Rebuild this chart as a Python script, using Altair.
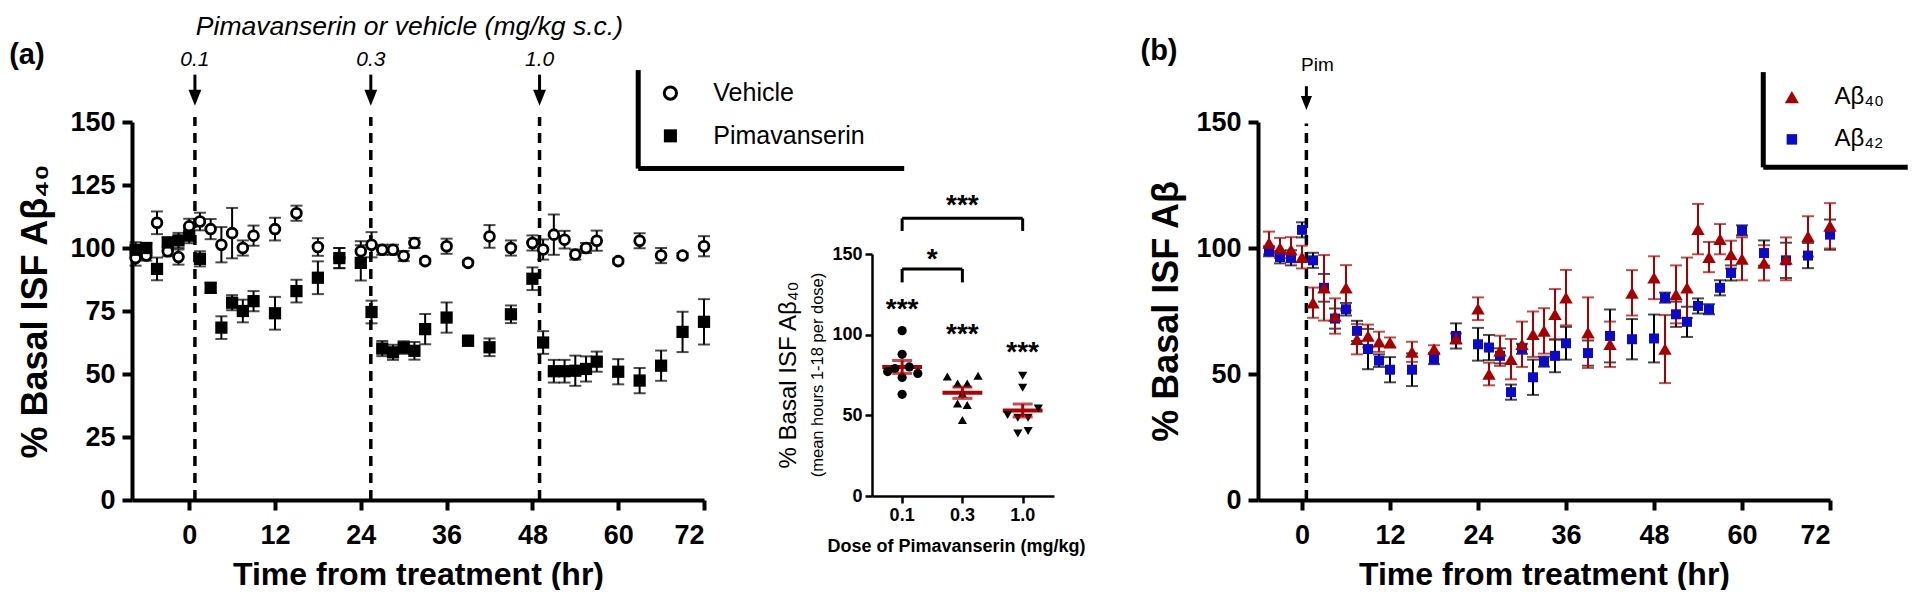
import altair as alt
import pandas as pd

FONT = "Liberation Sans"
RED = "#A80000"
MEANRED = "#B40000"
BLUE = "#0A0ACD"

# ---------------- panel (a): time course ----------------
time_a = [-7.5, -6, -4.5, -3, -1.5, 0, 1.5, 3, 4.5, 6, 7.5, 9, 12, 15, 18, 21, 24,
          25.5, 27, 28.5, 30, 31.5, 33, 36, 39, 42, 45, 48,
          49.5, 51, 52.5, 54, 55.5, 57, 60, 63, 66, 69, 72]
vehicle = [96, 97, 110, 98.7, 96.4, 108.6, 110.5, 107.5, 101.3, 105.9, 100, 104.9, 107.5,
           113.8, 100.4, 96, 98.7, 101.3, 99.3, 99.3, 96.8, 102, 94.8, 100.7, 94.1, 104.6,
           100, 102, 99.4, 105.3, 103.3, 97.4, 100, 102.9, 94.8, 102.9, 97, 97, 100.7]
vehicle_sem = [3, 2, 4.5, 2, 3, 3, 3.5, 4, 7, 10, 3, 4, 4.5, 3, 3.5, 4, 4, 5, 2, 2, 2, 2, 1,
               3, 1, 4.5, 3, 3, 4, 8, 3.5, 2, 2, 4, 1, 3, 3, 1, 4]
pimavanserin = [99.3, 100, 91.7, 102.2, 103, 104.9, 95.7, 84.2, 68.4, 78.3, 75, 78.9, 74.1,
                82.9, 88.2, 96, 94.1, 74.6, 60.1, 58.6, 60.5, 59.2, 67.8, 72.4, 63.2, 60.6,
                73.7, 87.8, 62.5, 51.1, 51.1, 51.3, 52, 54.9, 50.9, 47.4, 53.3, 66.7, 70.7]
pimavanserin_sem = [3, 2, 4.5, 2, 3, 3, 3, 2, 4.5, 3, 4.5, 4, 6.5, 4.5, 6.5, 4, 7, 4.5, 3, 3,
                    2.5, 3.5, 6, 6, 2, 3.5, 3.5, 4.5, 4.5, 4.5, 4.5, 6, 5, 4, 5, 5, 6, 8, 9]
dose_times = [0.8, 25.4, 49.0]
dose_labels = ["0.1", "0.3", "1.0"]

# ---------------- panel (b): Abeta40 / Abeta42 ----------------
time_b = [-4.5, -3, -1.5, 0, 1.5, 3, 4.5, 6, 7.5, 9, 10.5, 12, 15, 18, 21, 24,
          25.5, 27, 28.5, 30, 31.5, 33, 34.5, 36, 39, 42, 45, 48,
          49.5, 51, 52.5, 54, 55.5, 57, 58.5, 60, 63, 66, 69, 72]
ab40 = [102, 100, 99.3, 96.4, 78.3, 84.2, 73, 84.2, 63.8, 65.1, 62.8, 62.5,
        58.8, 59.9, 64.1, 75.9, 50, 59.2, 55.9, 61.8, 65.8, 67.1, 73.7, 80.3,
        66.4, 61.8, 82.2, 88.2, 59.9, 81.6, 84.2, 107.5, 96.4, 103.5, 97.4, 95.7,
        94.1, 95.7, 104.6, 108.8]
ab40_sem = [4.5, 4, 5, 4.5, 6, 13, 7, 9, 6, 4.5, 4, 2, 4, 1.5, 2, 4.5,
            4.5, 6, 8, 9, 9, 9, 10, 11, 14, 9, 9, 8.5, 13.5, 11.5, 12, 10, 6, 6, 5.5, 8.5,
            7, 8.5, 8, 9]
ab42 = [98.7, 96.4, 96.1, 107.2, 95.1, 84.2, 72, 75.7, 67.1, 59.9, 55.3, 51.7,
        51.7, 55.9, 65.1, 61.8, 60.5, 57.2, 42.8, 60, 48.7, 54.9, 57.2, 62.2,
        58.3, 65.1, 63.8, 64.1, 80.3, 73.7, 70.7, 77, 75.7, 84.2, 90.1, 107,
        98, 95.1, 97, 105.3]
ab42_sem = [2, 2.5, 3, 3, 3, 5.5, 4, 2.5, 4, 8, 2.5, 5, 6.5, 2, 5, 6.5,
            5, 3, 3, 2, 7, 2, 6.5, 6.5, 5, 10.5, 8, 9.5, 2, 5, 6, 3, 2, 3, 3, 2,
            5, 7, 5, 6]

# ---------------- inset: mean hours 1-18 per dose ----------------
inset_doses = ["0.1", "0.3", "1.0"]
inset_01 = [102.5, 87.8, 80, 79, 77.1, 76, 73.5, 63]
inset_03 = [74, 74.6, 69.8, 69.8, 63.6, 57.4, 56.4, 47.1]
inset_10 = [74.6, 67.1, 54.3, 50.2, 48.5, 48.5, 40.3, 38.8]
jitter_01 = [0, 0, 0.12, -0.12, -0.24, 0.26, 0, 0]
jitter_03 = [-0.25, 0.26, -0.08, 0.08, 0, -0.08, 0.08, 0]
jitter_10 = [0, 0, 0.26, -0.25, -0.08, 0.09, 0.09, -0.08]
inset_mean = [80, 64, 53]
inset_sem = [4, 3.5, 4]

# ---------------- tables ----------------
df_a = pd.DataFrame({"t": time_a, "veh": vehicle, "veh_e": vehicle_sem,
                     "pim": pimavanserin, "pim_e": pimavanserin_sem})
df_a["veh_lo"] = df_a.veh - df_a.veh_e
df_a["veh_hi"] = df_a.veh + df_a.veh_e
df_a["pim_lo"] = df_a.pim - df_a.pim_e
df_a["pim_hi"] = df_a.pim + df_a.pim_e
df_dose = pd.DataFrame({"t": dose_times, "lab": dose_labels})
df_one = pd.DataFrame({"k": [0]})

df_b = pd.DataFrame({"t": time_b, "a40": ab40, "a40_e": ab40_sem, "a42": ab42, "a42_e": ab42_sem})
df_b["a40_lo"] = df_b.a40 - df_b.a40_e
df_b["a40_hi"] = df_b.a40 + df_b.a40_e
df_b["a42_lo"] = df_b.a42 - df_b.a42_e
df_b["a42_hi"] = df_b.a42 + df_b.a42_e

rows = []
for i, (vals, jit, shp) in enumerate([(inset_01, jitter_01, "circle"),
                                      (inset_03, jitter_03, "triangle-up"),
                                      (inset_10, jitter_10, "triangle-down")]):
    for v, j in zip(vals, jit):
        rows.append({"x": i + j, "v": v, "shape": shp})
df_pts = pd.DataFrame(rows)
df_mean = pd.DataFrame({"i": [0, 1, 2], "m": inset_mean, "s": inset_sem,
                        "lab": inset_doses})
df_mean["l"] = df_mean.i - 0.33
df_mean["r"] = df_mean.i + 0.33
df_mean["lo"] = df_mean.m - df_mean.s
df_mean["hi"] = df_mean.m + df_mean.s

# ---------------- scales ----------------
xa = alt.Scale(domain=[-8, 72], nice=False, zero=False)
ya = alt.Scale(domain=[0, 150], nice=False, zero=False)
xb = alt.Scale(domain=[-6, 72], nice=False, zero=False)
yb = alt.Scale(domain=[0, 150], nice=False, zero=False)
xi = alt.Scale(domain=[-0.5, 2.52], range=[0, 182], nice=False, zero=False)
yi = alt.Scale(domain=[0, 150], range=[374, 132], nice=False, zero=False)

ARROW = "M-0.8,-1L0.8,-1L0,1Z"


def errbars(df, xf, lo, hi, xs, ys, color, cap=12, w=2):
    bar = alt.Chart(df).mark_rule(color=color, strokeWidth=w).encode(
        x=alt.X(f"{xf}:Q", scale=xs), y=alt.Y(f"{lo}:Q", scale=ys), y2=f"{hi}:Q")
    top = alt.Chart(df).mark_tick(color=color, thickness=w, size=cap, orient="horizontal").encode(
        x=alt.X(f"{xf}:Q", scale=xs), y=alt.Y(f"{hi}:Q", scale=ys))
    bot = alt.Chart(df).mark_tick(color=color, thickness=w, size=cap, orient="horizontal").encode(
        x=alt.X(f"{xf}:Q", scale=xs), y=alt.Y(f"{lo}:Q", scale=ys))
    return [bar, top, bot]


def dtext(text, x, y, xs, ys, **kw):
    return alt.Chart(df_one).mark_text(text=text, **kw).encode(
        x=alt.X(datum=x, scale=xs), y=alt.Y(datum=y, scale=ys))


def drule(x, y, x2=None, y2=None, xs=None, ys=None, **kw):
    enc = dict(x=alt.X(datum=x, scale=xs), y=alt.Y(datum=y, scale=ys))
    if x2 is not None:
        enc["x2"] = alt.X2(datum=x2)
    if y2 is not None:
        enc["y2"] = alt.Y2(datum=y2)
    return alt.Chart(df_one).mark_rule(**kw).encode(**enc)


def dpoint(x, y, xs, ys, **kw):
    return alt.Chart(df_one).mark_point(**kw).encode(
        x=alt.X(datum=x, scale=xs), y=alt.Y(datum=y, scale=ys))


# ---------------- panel (a) ----------------
axis_xa = alt.Axis(values=list(range(0, 73, 12)), title="Time from treatment (hr)",
                   titlePadding=11, labelPadding=12)
axis_ya = alt.Axis(values=[0, 25, 50, 75, 100, 125, 150], title="% Basal ISF Aβ₄₀",
                   titlePadding=15, labelPadding=7, titleFontSize=36)

dash_a = alt.Chart(df_dose).mark_rule(strokeDash=[10, 7], strokeWidth=3.5, color="black").encode(
    x=alt.X("t:Q", scale=xa, axis=axis_xa),
    y=alt.Y(datum=0, scale=ya, axis=axis_ya), y2=alt.Y2(datum=152))
shaft_a = alt.Chart(df_dose).mark_rule(strokeWidth=3, color="black").encode(
    x=alt.X("t:Q", scale=xa), y=alt.Y(datum=160.5, scale=ya), y2=alt.Y2(datum=168.8))
head_a = alt.Chart(df_dose).mark_point(shape=ARROW, filled=True, color="black", opacity=1,
                                       size=256).encode(
    x=alt.X("t:Q", scale=xa), y=alt.Y(datum=159.6, scale=ya))
doselab_a = alt.Chart(df_dose).mark_text(fontStyle="italic", fontSize=21, baseline="middle").encode(
    x=alt.X("t:Q", scale=xa), y=alt.Y(datum=174.6, scale=ya), text="lab:N")
title_a = dtext("Pimavanserin or vehicle (mg/kg s.c.)", 30.8, 187.6, xa, ya,
                fontStyle="italic", fontSize=26.5, baseline="middle")
lab_a = dtext("(a)", -22.7, 176.4, xa, ya, fontWeight="bold", fontSize=29, baseline="middle")

veh_pts = alt.Chart(df_a).mark_point(shape="circle", filled=True, fill="white", stroke="black",
                                     strokeWidth=2.8, size=95, opacity=1).encode(
    x=alt.X("t:Q", scale=xa), y=alt.Y("veh:Q", scale=ya))
pim_pts = alt.Chart(df_a).mark_point(shape="square", filled=True, color="black", size=150,
                                     opacity=1).encode(
    x=alt.X("t:Q", scale=xa), y=alt.Y("pim:Q", scale=ya))

leg_a = [
    drule(62.8, 131.5, y2=170.6, xs=xa, ys=ya, strokeWidth=5, color="black"),
    drule(62.8, 131.5, x2=100, xs=xa, ys=ya, strokeWidth=5, color="black"),
    dpoint(67.3, 161.5, xa, ya, shape="circle", filled=True, fill="white", stroke="black",
           strokeWidth=3, size=150, opacity=1),
    dpoint(67.3, 144.5, xa, ya, shape="square", filled=True, color="black", size=170, opacity=1),
    dtext("Vehicle", 73.3, 161.5, xa, ya, fontSize=25, align="left", baseline="middle"),
    dtext("Pimavanserin", 73.3, 144.5, xa, ya, fontSize=25, align="left", baseline="middle"),
]

panel_a = alt.layer(
    dash_a, shaft_a, head_a, doselab_a, title_a, lab_a,
    *errbars(df_a, "t", "veh_lo", "veh_hi", xa, ya, "black"),
    *errbars(df_a, "t", "pim_lo", "pim_hi", xa, ya, "black"),
    veh_pts, pim_pts, *leg_a
).properties(width=572, height=378)

# ---------------- inset ----------------
axis_xi = alt.Axis(values=[0, 1, 2], labels=False,
                   title="Dose of Pimavanserin (mg/kg)", titleFontSize=18, titlePadding=33,
                   domainWidth=2.5, tickWidth=2.5, tickSize=7, titleX=84)
axis_yi = alt.Axis(values=[0, 50, 100, 150], title=None, domainWidth=2.5, tickWidth=2.5,
                   tickSize=7, labelFontSize=18, labelPadding=3)

mean_line = alt.Chart(df_mean).mark_rule(color=MEANRED, strokeWidth=4).encode(
    x=alt.X("l:Q", scale=xi, axis=axis_xi), x2="r:Q",
    y=alt.Y("m:Q", scale=yi, axis=axis_yi))
ins_pts = alt.Chart(df_pts).mark_point(filled=True, color="black", size=85, opacity=1).encode(
    x=alt.X("x:Q", scale=xi), y=alt.Y("v:Q", scale=yi),
    shape=alt.Shape("shape:N", scale=None))
sem_line = alt.Chart(df_mean).mark_rule(color=MEANRED, strokeWidth=3).encode(
    x=alt.X("i:Q", scale=xi), y=alt.Y("lo:Q", scale=yi), y2="hi:Q")
sem_caps_hi = alt.Chart(df_mean).mark_tick(color=MEANRED, thickness=3, size=20,
                                           orient="horizontal").encode(
    x=alt.X("i:Q", scale=xi), y=alt.Y("hi:Q", scale=yi))
sem_caps_lo = alt.Chart(df_mean).mark_tick(color=MEANRED, thickness=3, size=20,
                                           orient="horizontal").encode(
    x=alt.X("i:Q", scale=xi), y=alt.Y("lo:Q", scale=yi))
dose_ticklab = alt.Chart(df_mean).mark_text(fontSize=18, fontWeight="bold", baseline="middle",
                                            dy=20).encode(
    x=alt.X("i:Q", scale=xi), y=alt.Y(datum=0, scale=yi), text="lab:N")

br = dict(xs=xi, ys=yi, strokeWidth=3, color="black")
brackets = [
    drule(0, 172.1, x2=2, **br), drule(0, 164.3, y2=172.1, **br), drule(2, 164.3, y2=172.1, **br),
    drule(0, 140.7, x2=1, **br), drule(0, 132.4, y2=140.7, **br), drule(1, 132.4, y2=140.7, **br),
]
star = dict(fontWeight="bold", fontSize=28, baseline="alphabetic", dy=16)
stars = [
    dtext("***", 1, 185, xi, yi, **star),
    dtext("*", 0.5, 151.4, xi, yi, **star),
    dtext("***", 0, 120.5, xi, yi, **star),
    dtext("***", 1, 105, xi, yi, **star),
    dtext("***", 2, 93.6, xi, yi, **star),
]
ins_ytitle = [
    dtext("% Basal ISF Aβ₄₀", -1.875, 75, xi, yi, fontSize=24, angle=270, baseline="middle"),
    dtext("(mean hours 1-18 per dose)", -1.39, 75, xi, yi, fontSize=16.5, angle=270,
          baseline="middle"),
]

inset = alt.layer(
    mean_line, ins_pts, sem_line, sem_caps_hi, sem_caps_lo, dose_ticklab,
    *brackets, *stars, *ins_ytitle
).properties(width=218, height=374)

# ---------------- panel (b) ----------------
axis_xb = alt.Axis(values=list(range(0, 73, 12)), title="Time from treatment (hr)",
                   titlePadding=11, labelPadding=12)
axis_yb = alt.Axis(values=[0, 50, 100, 150], title="% Basal ISF Aβ", titlePadding=10,
                   labelPadding=7, titleFontSize=36)

dash_b = alt.Chart(df_one).mark_rule(strokeDash=[10, 7], strokeWidth=3.5, color="black").encode(
    x=alt.X(datum=0.6, scale=xb, axis=axis_xb),
    y=alt.Y(datum=0, scale=yb, axis=axis_yb), y2=alt.Y2(datum=149.4))
shaft_b = drule(0.6, 158.5, y2=164.2, xs=xb, ys=yb, strokeWidth=3, color="black")
head_b = dpoint(0.6, 157.5, xb, yb, shape=ARROW, filled=True, color="black", size=196, opacity=1)
pim_lab = dtext("Pim", 2.1, 172.7, xb, yb, fontSize=19, baseline="middle")
lab_b = dtext("(b)", -19.5, 178.3, xb, yb, fontWeight="bold", fontSize=29, baseline="middle")

a42_pts = alt.Chart(df_b).mark_point(shape="square", filled=True, color=BLUE, size=100,
                                     opacity=1).encode(
    x=alt.X("t:Q", scale=xb), y=alt.Y("a42:Q", scale=yb))
a40_pts = alt.Chart(df_b).mark_point(shape="triangle-up", filled=True, color=RED, size=180,
                                     opacity=1).encode(
    x=alt.X("t:Q", scale=xb), y=alt.Y("a40:Q", scale=yb))

leg_b = [
    drule(62.9, 132, y2=169.8, xs=xb, ys=yb, strokeWidth=5, color="black"),
    drule(62.9, 132, x2=82.6, xs=xb, ys=yb, strokeWidth=5, color="black"),
    dpoint(66.8, 159.9, xb, yb, shape="triangle-up", filled=True, color=RED, size=200, opacity=1),
    dpoint(66.8, 143.1, xb, yb, shape="square", filled=True, color=BLUE, size=110, opacity=1),
    dtext("Aβ₄₀", 72.6, 159.9, xb, yb, fontSize=24, align="left", baseline="middle"),
    dtext("Aβ₄₂", 72.6, 143.1, xb, yb, fontSize=24, align="left", baseline="middle"),
]

panel_b = alt.layer(
    dash_b, shaft_b, head_b, pim_lab, lab_b,
    *errbars(df_b, "t", "a42_lo", "a42_hi", xb, yb, "black"),
    *errbars(df_b, "t", "a40_lo", "a40_hi", xb, yb, RED),
    a42_pts, a40_pts, *leg_b
).properties(width=572, height=378)

chart = alt.hconcat(panel_a, inset, panel_b, spacing=168, bounds="flush").properties(
    padding={"left": 1, "top": 6, "right": 0, "bottom": 0}
).configure(font=FONT).configure_view(stroke=None).configure_axis(
    domainColor="black", tickColor="black", labelColor="black", titleColor="black",
    domainWidth=4, tickWidth=4, tickSize=10, grid=False,
    labelFont=FONT, titleFont=FONT, labelFontSize=27, labelFontWeight="bold",
    titleFontSize=32, titleFontWeight="bold"
)

chart.save("out.html", embed_options={"renderer": "svg", "actions": False})
